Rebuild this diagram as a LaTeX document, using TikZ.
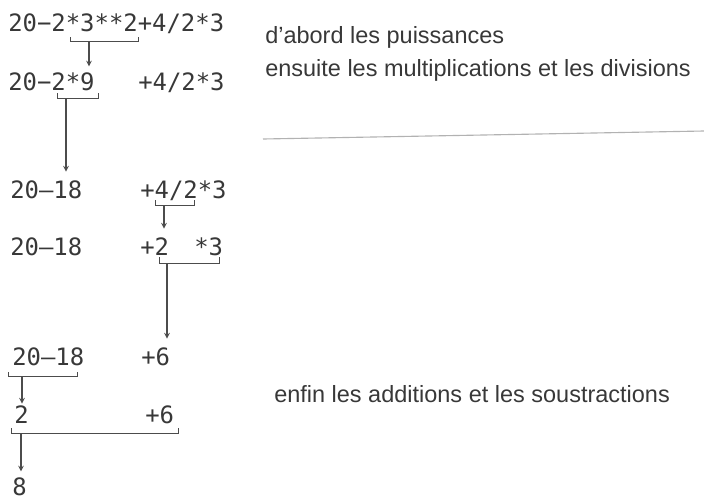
\documentclass[tikz,border=0pt]{standalone}
\usepackage{fontspec}
\setmainfont{Liberation Sans}
\newfontfamily\exprfont{DejaVu Sans Mono}
\usetikzlibrary{arrows, positioning}

\begin{document}
\begin{tikzpicture}[
    x=0.025cm, y=-0.025cm,
    expr/.style={anchor=base west, inner sep=0pt, text=black!78, font=\exprfont\fontsize{17}{20}\selectfont},
    remark/.style={anchor=base west, inner sep=0pt, text=black!78, font=\fontsize{16.7}{20}\selectfont},
    brace/.style={line width=0.7pt, color=black!70},
    arrow/.style={line width=0.8pt, ->, >=stealth, color=black!70, shorten >=6pt}
]
\useasboundingbox (0,0) rectangle (704,501);

% the expression, step by step
\node[expr] (r1) at (8, 31) {20−2*3**2+4/2*3};
\node[expr] (r2a) at (8, 90) {20−2*9};
\node[expr] (r2b) at (138, 90) {+4/2*3};
\node[expr] (r3a) at (10, 198) {20–18};
\node[expr] (r3b) at (140, 198) {+4/2*3};
\node[expr] (r4a) at (10, 255) {20–18};
\node[expr] (r4b) at (140, 255) {+2};
\node[expr] (r4c) at (194, 255) {*3};
\node[expr] (r5a) at (12, 365) {20–18};
\node[expr] (r5b) at (141, 365) {+6};
\node[expr] (r6a) at (14, 423) {2};
\node[expr] (r6b) at (145, 423) {+6};
\node[expr] (r7) at (12, 495) {8};

% remarks
\node[remark] (powers) at (265, 43) {d’abord les puissances};
\node[remark] (products) at (265, 76) {ensuite les multiplications et les divisions};
\node[remark] (sums) at (274, 402) {enfin les additions et les soustractions};
\draw[line width=0.8pt, color=black!30] (263, 139) -- (704, 131);

% brackets and arrows
\draw[brace] (70, 37) -- (70, 41) -- (138, 41) -- (138, 37);
\coordinate (u1) at (89, 41);
\draw[arrow, shorten >=4pt] (u1) -- (u1 |- r2a.north);

\draw[brace] (57, 93) -- (57, 98) -- (98, 98) -- (98, 93);
\coordinate (u2) at (66, 98);
\draw[arrow] (u2) -- (u2 |- r3a.north);

\draw[brace] (155, 200) -- (155, 205) -- (194, 205) -- (194, 200);
\coordinate (u3) at (164, 205);
\draw[arrow] (u3) -- (u3 |- r4b.north);

\draw[brace] (159, 257) -- (159, 263) -- (219, 263) -- (219, 257);
\coordinate (u4) at (167, 263);
\draw[arrow] (u4) -- (u4 |- r5b.north);

\draw[brace] (8, 372) -- (8, 376) -- (77, 376) -- (77, 372);
\coordinate (u5) at (22, 376);
\draw[arrow, shorten >=1pt] (u5) -- (u5 |- r6a.north);

\draw[brace] (11, 428) -- (11, 433) -- (178, 433) -- (178, 428);
\coordinate (u6) at (21, 433);
\draw[arrow, shorten >=4pt] (u6) -- (u6 |- r7.north);

\end{tikzpicture}
\end{document}
